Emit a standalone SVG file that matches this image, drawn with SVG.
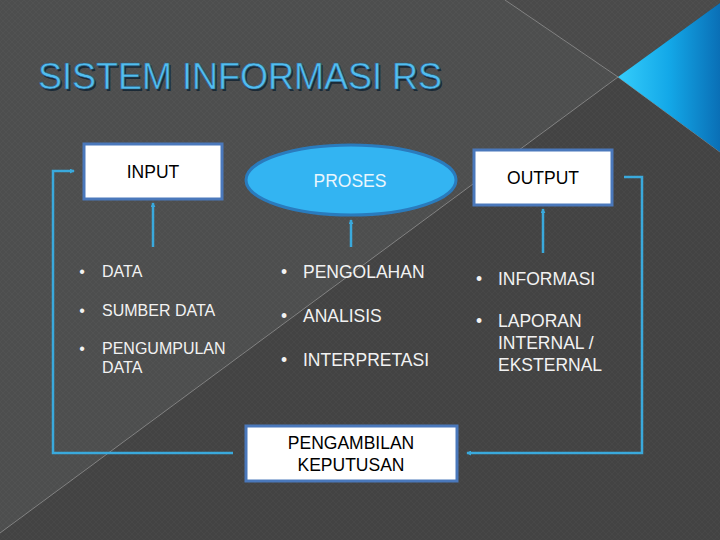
<svg xmlns="http://www.w3.org/2000/svg" width="720" height="540" viewBox="0 0 720 540">
<defs>
<linearGradient id="blue" x1="0" y1="0" x2="1" y2="0">
<stop offset="0" stop-color="#35cdfb"/>
<stop offset="0.5" stop-color="#13a8e8"/>
<stop offset="1" stop-color="#0a6fb6"/>
</linearGradient>
<pattern id="tex" width="6" height="6" patternUnits="userSpaceOnUse">
<path d="M0 6 L6 0 M0 0 L6 6" stroke="#ffffff" stroke-opacity="0.025" stroke-width="1"/>
</pattern>
<marker id="ah" viewBox="0 0 6 6" refX="5" refY="3" markerWidth="5" markerHeight="5" orient="auto" markerUnits="userSpaceOnUse">
<path d="M0 0 L6 3 L0 6 Z" fill="#3aa9dc"/>
</marker>
<style>
.box{fill:#ffffff;stroke:#4a78bb;stroke-width:3}
.lbl{font-family:"Liberation Sans",Arial,sans-serif;font-size:17.5px;fill:#000000;text-anchor:middle}
.item{font-family:"Liberation Sans",Arial,sans-serif;fill:#f2f2f2}
.c16{font-size:16px}
.c18{font-size:17.5px}
.conn{fill:none;stroke:#3aa9dc;stroke-width:2.5}
.diag{stroke:#9a9a9a;stroke-width:1;stroke-opacity:0.7}
</style>
</defs>
<!-- background -->
<rect width="720" height="540" fill="#434343"/>
<polygon points="0,0 505,0 618,77 0,533" fill="#4d4e4e"/>
<polygon points="505,0 720,0 720,3 618,77" fill="#4a4a4a"/>
<rect width="720" height="540" fill="url(#tex)"/>
<line class="diag" x1="505" y1="0" x2="618" y2="77"/>
<line class="diag" x1="618" y1="77" x2="0" y2="533"/>
<line class="diag" x1="618" y1="77" x2="720" y2="152"/>
<polygon points="720,3 618,77 720,152" fill="url(#blue)"/>
<!-- title -->
<text x="39.5" y="90.5" font-family="'Liberation Sans',Arial,sans-serif" font-size="36" fill="#1b2a36">SISTEM INFORMASI RS</text>
<text x="38" y="89" font-family="'Liberation Sans',Arial,sans-serif" font-size="36" fill="#52bdf0" stroke="#2a5a7a" stroke-width="0.6">SISTEM INFORMASI RS</text>
<!-- connectors -->
<g id="connectors">
<line class="conn" x1="153" y1="247" x2="153" y2="203" marker-end="url(#ah)"/>
<line class="conn" x1="351" y1="247" x2="351" y2="220" marker-end="url(#ah)"/>
<line class="conn" x1="543" y1="253" x2="543" y2="209" marker-end="url(#ah)"/>
<polyline class="conn" points="233,453 53,453 53,171 74,171" marker-end="url(#ah)"/>
<polyline class="conn" points="624,177 642,177 642,453 467,453" marker-end="url(#ah)"/>
</g>
<!-- nodes -->
<g id="input">
<rect class="box" x="84" y="144" width="138" height="55"/>
<text class="lbl" x="153" y="178">INPUT</text>
</g>
<g id="proses">
<ellipse cx="351" cy="180" rx="105" ry="35" fill="#33b4f2" stroke="#2a7bbd" stroke-width="3"/>
<text class="lbl" x="350" y="187" style="fill:#eaf6fd">PROSES</text>
</g>
<g id="output">
<rect class="box" x="474" y="150" width="138" height="55"/>
<text class="lbl" x="543" y="184">OUTPUT</text>
</g>
<g id="keputusan">
<rect class="box" x="246" y="426" width="211" height="55"/>
<text class="lbl" x="351" y="449">PENGAMBILAN</text>
<text class="lbl" x="351" y="471">KEPUTUSAN</text>
</g>
<g id="input-items" class="item c16">
<text x="82" y="277" text-anchor="middle">•</text><text x="102" y="277">DATA</text>
<text x="82" y="316" text-anchor="middle">•</text><text x="102" y="316">SUMBER DATA</text>
<text x="82" y="354" text-anchor="middle">•</text><text x="102" y="354">PENGUMPULAN</text>
<text x="102" y="373">DATA</text>
</g>
<g id="proses-items" class="item c18">
<text x="284" y="278" text-anchor="middle">•</text><text x="303" y="278">PENGOLAHAN</text>
<text x="284" y="322" text-anchor="middle">•</text><text x="303" y="322">ANALISIS</text>
<text x="284" y="366" text-anchor="middle">•</text><text x="303" y="366">INTERPRETASI</text>
</g>
<g id="output-items" class="item c18">
<text x="479" y="285" text-anchor="middle">•</text><text x="498" y="285">INFORMASI</text>
<text x="479" y="327" text-anchor="middle">•</text><text x="498" y="327">LAPORAN</text>
<text x="498" y="349">INTERNAL /</text>
<text x="498" y="371">EKSTERNAL</text>
</g>
</svg>
